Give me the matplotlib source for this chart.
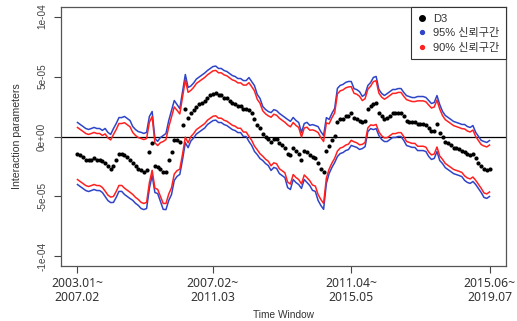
import numpy as np
import matplotlib
matplotlib.use("Agg")
import matplotlib.pyplot as plt
from matplotlib.lines import Line2D

plt.rcParams['font.family'] = ['Liberation Sans', 'Noto Sans CJK KR', 'DejaVu Sans']

# D3 interaction parameter per rolling window (units of 1e-5)
d3 = [
    -1.42, -1.58, -1.75, -1.92, -2.00, -1.92, -1.83, -1.92, -1.92, -2.08,
    -2.17, -2.50, -2.67, -2.42, -2.00, -1.50, -1.50, -1.58, -1.75, -1.92,
    -2.25, -2.50, -2.67, -2.83, -2.92, -2.83, -1.33, -0.58, -2.42, -2.58,
    -2.75, -3.00, -2.92, -2.00, -1.33, -0.33, -0.33, -0.42, 0.92, 2.33,
    1.58, 1.92, 2.17, 2.50, 2.67, 2.83, 3.00, 3.25, 3.42, 3.58,
    3.62, 3.42, 3.42, 3.25, 3.17, 3.00, 2.83, 2.75, 2.58, 2.58,
    2.33, 2.33, 2.25, 1.92, 1.50, 1.00, 0.67, 0.25, 0.00, -0.17,
    -0.42, -0.17, -0.25, -0.58, -0.75, -0.92, -1.42, -1.58, -1.00, -1.25,
    -1.42, -2.00, -1.25, -1.33, -1.58, -1.75, -1.83, -2.25, -2.67, -3.00,
    -1.17, -0.83, -0.33, 0.08, 1.17, 1.42, 1.50, 1.67, 1.75, 1.92,
    1.58, 1.50, 1.33, 1.17, 1.33, 2.33, 2.58, 2.75, 2.83, 2.00,
    1.67, 1.50, 1.58, 1.75, 1.92, 1.92, 2.00, 2.00, 1.67, 1.33,
    1.25, 1.17, 1.17, 1.08, 1.08, 1.08, 1.00, 0.67, 0.42, 0.50,
    1.08, 0.33, -0.08, -0.42, -0.58, -0.75, -0.92, -1.00, -1.08, -1.17,
    -1.33, -1.50, -1.58, -1.42, -1.83, -2.17, -2.50, -2.75, -2.83, -2.67,
]

# standard errors of the estimates (units of 1e-5)
se = [
    1.32, 1.32, 1.32, 1.32, 1.32, 1.32, 1.32, 1.32, 1.32, 1.32,
    1.45, 1.45, 1.45, 1.57, 1.57, 1.57, 1.57, 1.66, 1.66, 1.66,
    1.57, 1.57, 1.57, 1.62, 1.62, 1.62, 1.53, 1.36, 1.15, 1.11,
    1.36, 1.57, 1.62, 1.70, 1.79, 1.70, 1.53, 1.40, 1.45, 1.45,
    1.28, 1.17, 1.17, 1.17, 1.17, 1.17, 1.17, 1.15, 1.15, 1.15,
    1.15, 1.15, 1.15, 1.15, 1.15, 1.15, 1.15, 1.15, 1.15, 1.15,
    1.19, 1.19, 1.36, 1.36, 1.40, 1.28, 1.28, 1.15, 1.15, 1.15,
    1.23, 1.23, 1.23, 1.28, 1.28, 1.28, 1.45, 1.45, 1.32, 1.32,
    1.32, 1.19, 1.19, 1.28, 1.28, 1.40, 1.40, 1.57, 1.57, 1.57,
    1.40, 1.15, 1.15, 1.15, 1.45, 1.45, 1.45, 1.45, 1.45, 1.36,
    1.23, 1.23, 1.23, 1.11, 1.11, 0.98, 0.98, 1.11, 1.11, 0.98,
    0.98, 0.98, 1.02, 1.02, 1.02, 1.02, 1.02, 1.02, 1.02, 1.06,
    1.06, 1.06, 1.06, 1.15, 1.15, 1.15, 1.15, 1.19, 1.19, 1.19,
    1.19, 1.19, 1.11, 1.11, 1.11, 1.11, 1.11, 1.11, 1.11, 1.11,
    1.19, 1.19, 1.19, 1.19, 1.11, 1.11, 1.11, 1.19, 1.19, 1.19,
]

tick_pos = [0, 49, 99, 149]
tick_labels = ["2003.01~\n2007.02", "2007.02~\n2011.03",
               "2011.04~\n2015.05", "2015.06~\n2019.07"]
ytick_vals = [-1e-4, -5e-5, 0, 5e-5, 1e-4]
ytick_labels = ["-1e-04", "-5e-05", "0e+00", "5e-05", "1e-04"]
legend_labels = ["D3", "95% 신뢰구간", "90% 신뢰구간"]

scale = 1e-5
est = np.array(d3) * scale
err = np.array(se) * scale
z95, z90 = 1.96, 1.645
x = np.arange(len(est))

BLUE = '#2f45c8'
RED = '#ff2020'

fig = plt.figure(figsize=(5.17, 3.21), dpi=100)
ax = fig.add_axes([61 / 517, 1 - 266 / 321, (506 - 61) / 517, (266 - 7) / 321])

ax.axhline(0, color='black', lw=0.9, zorder=1)
ax.plot(x, est + z95 * err, color=BLUE, lw=1.1, zorder=2)
ax.plot(x, est - z95 * err, color=BLUE, lw=1.1, zorder=2)
ax.plot(x, est + z90 * err, color=RED, lw=1.1, zorder=3)
ax.plot(x, est - z90 * err, color=RED, lw=1.1, zorder=3)
ax.plot(x, est, 'o', color='black', ms=3.0, mew=0, zorder=4)

ax.set_xlim(-5.96, 154.96)
ax.set_ylim(-1.08e-4, 1.08e-4)

ax.set_xticks(tick_pos)
ax.set_xticklabels(tick_labels, fontsize=8.8, color='#333333',
                   family=['Noto Sans', 'DejaVu Sans'], linespacing=1.1)
ax.set_yticks(ytick_vals)
ax.set_yticklabels(ytick_labels, rotation=90, va='center', fontsize=7.2,
                   color='#444444')
ax.tick_params(axis='x', length=5, width=0.8, color='#444444', pad=3)
ax.tick_params(axis='y', length=5, width=0.8, color='#444444', pad=5)
for s in ax.spines.values():
    s.set_color('#555555')
    s.set_linewidth(0.9)

ax.set_xlabel("Time Window", fontsize=7.3, color='#333333', labelpad=4)
ax.set_ylabel("Interaction parameters", fontsize=7.6, color='#333333', labelpad=11)

handles = [
    Line2D([], [], ls='none', marker='o', color='black', ms=4),
    Line2D([], [], ls='none', marker='o', color=BLUE, ms=2.8),
    Line2D([], [], ls='none', marker='o', color=RED, ms=2.8),
]
leg = ax.legend(handles, legend_labels, loc='upper right',
                bbox_to_anchor=(1.0, 1.0), borderaxespad=0,
                fontsize=8, frameon=True, fancybox=False,
                edgecolor='#333333', framealpha=1, handlelength=0.8,
                handletextpad=0.6, labelspacing=0.4, borderpad=0.6)
leg.get_frame().set_linewidth(0.8)
for t in leg.get_texts():
    t.set_color('#333333')

fig.savefig("out.png", dpi=100)
